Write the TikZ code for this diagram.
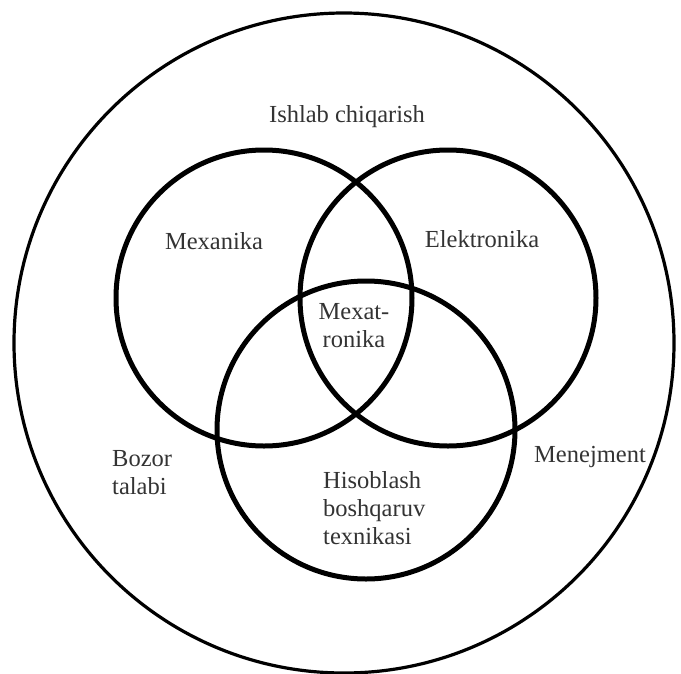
\documentclass[tikz,border=0pt]{standalone}
\usepackage{fontspec}
\setmainfont{Liberation Serif}
\begin{document}
\begin{tikzpicture}[x=1pt,y=-1pt,
  ring/.style={circle,draw=black,line width=5pt,minimum size=#1,inner sep=0pt},
  outerring/.style={circle,draw=black,line width=3.2pt,minimum size=#1,inner sep=0pt},
  lbl/.style={text=black!80,inner sep=0pt,font=\fontsize{24.5}{28}\selectfont},
  lblL/.style={lbl,align=left,anchor=west},
  lblC/.style={lbl,align=center}]
\useasboundingbox (0,0) rectangle (681,673);
\node[outerring=660] (outer) at (344,343) {};
\node[ring=296] (mex) at (264,298) {};
\node[ring=296] (ele) at (448,298) {};
\node[ring=298] (his) at (366,430) {};
\node[lblC] (t1) at (347,117) {Ishlab chiqarish};
\node[lblC] (t2) at (214,241) {Mexanika};
\node[lblC] (t3) at (482,239) {Elektronika};
\node[lblC] (t4) at (354,326) {Mexat-\\ronika};
\node[lblL] (t5) at (112,473) {Bozor\\talabi};
\node[lblC] (t6) at (590,457) {Menejment};
\node[lblL] (t7) at (323,508) {Hisoblash\\boshqaruv\\texnikasi};
\end{tikzpicture}
\end{document}
